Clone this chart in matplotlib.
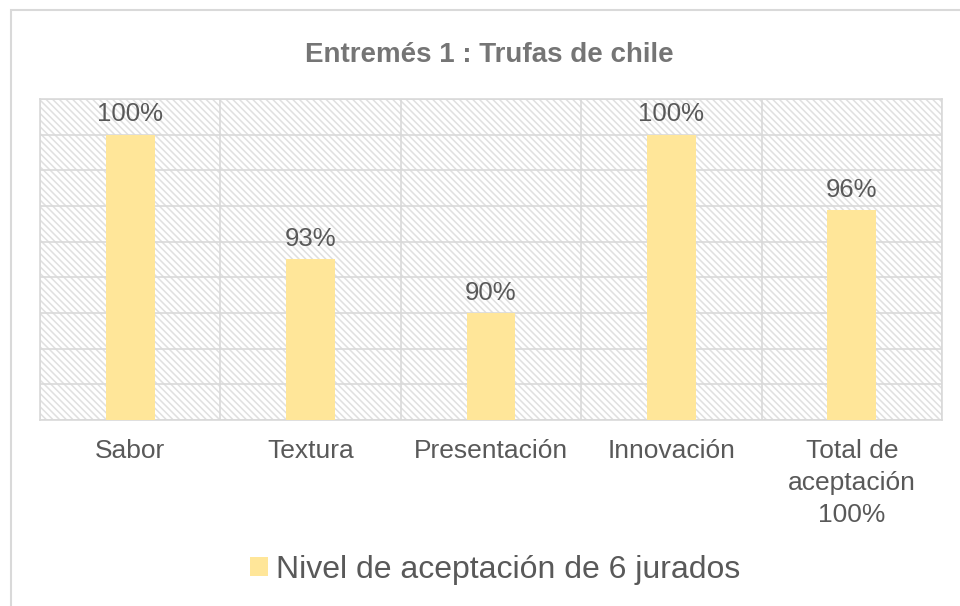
import matplotlib
matplotlib.use('Agg')
import matplotlib.pyplot as plt
from matplotlib.patches import Rectangle, Patch
import numpy as np

# ── Data ──────────────────────────────────────────────────────────────────────
categories = ['Sabor', 'Textura', 'Presentación', 'Innovación',
              'Total de\naceptación\n100%']
values     = [100, 93, 90, 100, 95.75]
labels     = ['100%', '93%', '90%', '100%', '96%']
series     = 'Nivel de aceptación de 6 jurados'
title      = 'Entremés 1 : Trufas de chile'

BAR_COLOR  = '#FFE699'
TEXT_COLOR = '#595959'
GRID_COLOR = '#d9d9d9'

plt.rcParams['font.family'] = ['Liberation Sans', 'DejaVu Sans']
plt.rcParams['hatch.linewidth'] = 1.1

fig = plt.figure(figsize=(9.6, 6.06), dpi=100)
ax = fig.add_axes([40/960, 1 - 420/606, 902/960, 321/606])

# hatched plot area
ax.add_patch(Rectangle((0, 0), 1, 1, transform=ax.transAxes, facecolor='white',
                       edgecolor='#e0e0e0', hatch='\\' * 5, lw=0, zorder=0))

x = np.arange(len(categories))
bars = ax.bar(x, values, width=0.27, color=BAR_COLOR, zorder=3)

for b, lab in zip(bars, labels):
    ax.annotate(lab, (b.get_x() + b.get_width() / 2, b.get_height()),
                xytext=(0, 6), textcoords='offset points', ha='center', va='bottom',
                fontsize=18.5, color=TEXT_COLOR)

ax.set_ylim(84, 102)
ax.set_yticks(np.arange(84, 103, 2))
ax.set_yticklabels([])
ax.set_xlim(-0.5, len(categories) - 0.5)
ax.set_xticks(x)
ax.set_xticklabels(categories, fontsize=19, color=TEXT_COLOR, linespacing=1.4)
ax.set_xticks(np.arange(-0.5, len(categories), 1), minor=True)
ax.tick_params(axis='both', which='both', length=0)
ax.tick_params(axis='x', pad=14)
ax.grid(True, axis='y', which='major', color=GRID_COLOR, lw=1.2, zorder=1)
ax.grid(True, axis='x', which='minor', color=GRID_COLOR, lw=1.2, zorder=1)
ax.set_axisbelow(True)
for s in ax.spines.values():
    s.set_color(GRID_COLOR)
    s.set_linewidth(1.2)

fig.text(0.51, 1 - 55/606, title, ha='center', va='center', fontsize=20,
         fontweight='bold', color='#757575')

fig.legend(handles=[Patch(facecolor=BAR_COLOR, label=series)], loc='center',
           bbox_to_anchor=(0.5 + 15/960, 1 - 570/606), frameon=False, fontsize=23,
           handlelength=0.55, handleheight=0.55, handletextpad=0.25,
           labelcolor=TEXT_COLOR)

# outer chart border
fig.patches.append(Rectangle((11/960, -0.1), 1.2, 1.1 - 10/606, transform=fig.transFigure,
                             fill=False, edgecolor=GRID_COLOR, lw=1.5))

plt.savefig('out.png', dpi=100)
